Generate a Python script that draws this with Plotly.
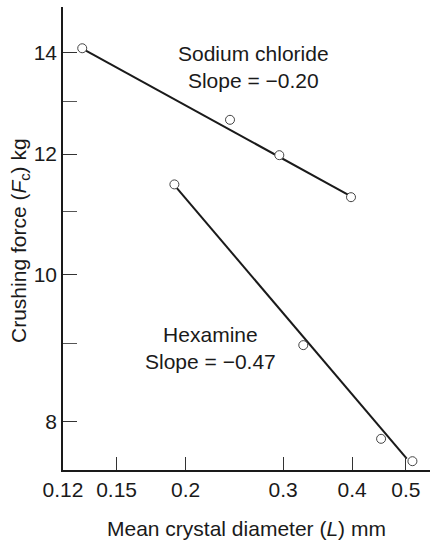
import math
import plotly.graph_objects as go

# Data (log-log axes)
nacl_L = [0.130, 0.2405, 0.2953, 0.398]
nacl_F = [14.09, 12.64, 11.98, 11.24]
hex_L = [0.1908, 0.3263, 0.4511, 0.514]
hex_F = [11.46, 8.98, 7.79, 7.53]

# fitted lines (end points, data units)
nacl_fit_L = [0.1315, 0.3936]
nacl_fit_F = [14.05, 11.28]
hex_fit_L = [0.1926, 0.502]
hex_fit_F = [11.40, 7.56]

x_tickvals = [0.12, 0.15, 0.2, 0.3, 0.4, 0.5]
x_ticktext = ["0.12", "0.15", "0.2", "0.3", "0.4", "0.5"]
y_tickvals = [8, 10, 12, 14]
y_ticktext = ["8", "10", "12", "14"]
y_minor_tickvals = [9, 11, 13]

FONT = "Liberation Sans, Arial, Helvetica, sans-serif"
INK = "#1a1a1a"

fig = go.Figure()
for L, F in [(nacl_fit_L, nacl_fit_F), (hex_fit_L, hex_fit_F)]:
    fig.add_trace(go.Scatter(x=L, y=F, mode="lines",
                             line=dict(color=INK, width=2), showlegend=False,
                             hoverinfo="skip"))
for L, F in [(nacl_L, nacl_F), (hex_L, hex_F)]:
    fig.add_trace(go.Scatter(x=L, y=F, mode="markers",
                             marker=dict(size=9, color="white", symbol="circle",
                                         line=dict(color="#444444", width=1)),
                             showlegend=False))

fig.add_annotation(x=math.log10(0.2648), y=1.1368, xref="x", yref="y",
                   text="Sodium chloride<br>Slope = \u22120.20", showarrow=False,
                   font=dict(family=FONT, size=21, color=INK), align="center")
fig.add_annotation(x=-0.655, y=0.9516, xref="x", yref="y",
                   text="Hexamine<br>Slope = \u22120.47", showarrow=False,
                   font=dict(family=FONT, size=21, color=INK), align="center")
fig.add_annotation(x=0.5, y=-0.1274, xref="paper", yref="paper",
                   text="Mean crystal diameter (<i>L</i>) mm", showarrow=False,
                   font=dict(family=FONT, size=21, color=INK),
                   xanchor="center", yanchor="middle")
fig.add_annotation(x=-0.1172, y=0.4968, xref="paper", yref="paper",
                   text="Crushing force (<i>F</i><sub>c</sub>) kg", showarrow=False,
                   textangle=-90,
                   font=dict(family=FONT, size=21, color=INK),
                   xanchor="center", yanchor="middle")

fig.update_xaxes(type="log", range=[math.log10(0.12), math.log10(0.553)],
                 tickvals=x_tickvals, ticktext=x_ticktext,
                 ticks="inside", ticklen=13, tickcolor="#333333", tickwidth=1,
                 showline=True, linecolor=INK, linewidth=1.5,
                 showgrid=False, zeroline=False,
                 tickfont=dict(family=FONT, size=21, color=INK))
fig.update_yaxes(type="log", range=[math.log10(7.43), math.log10(15)],
                 tickvals=y_tickvals, ticktext=y_ticktext,
                 ticks="inside", ticklen=14, tickcolor="#333333", tickwidth=1,
                 minor=dict(tickvals=y_minor_tickvals, ticks="inside", ticklen=14,
                            tickcolor="#555555", tickwidth=1, showgrid=False),
                 showline=True, linecolor=INK, linewidth=1.5,
                 showgrid=False, zeroline=False,
                 tickfont=dict(family=FONT, size=21, color=INK))

fig.update_layout(width=432, height=543,
                  margin=dict(l=63, r=2, t=7, b=73),
                  plot_bgcolor="white", paper_bgcolor="white")

fig.write_html("out.html", config={"displayModeBar": False},
               post_script="document.body.style.margin='0';document.body.style.padding='0';")
